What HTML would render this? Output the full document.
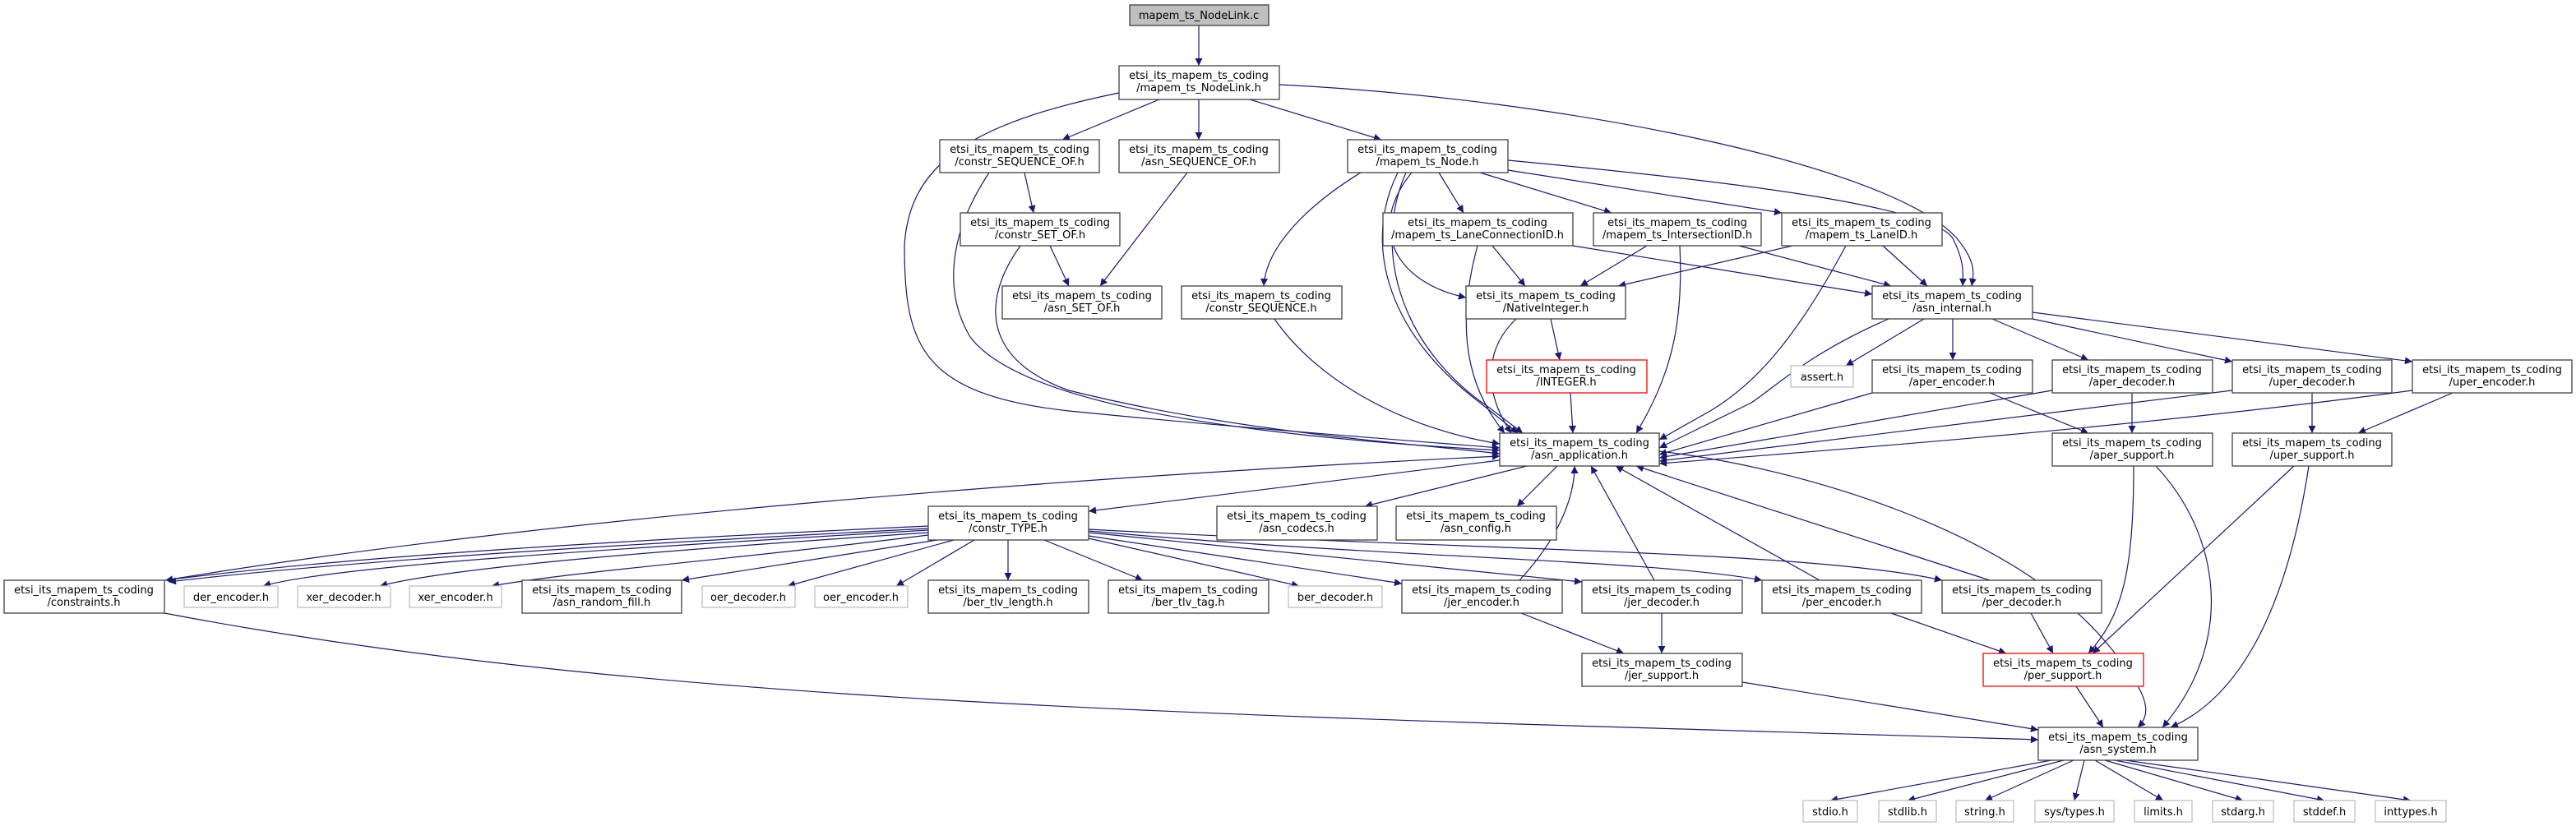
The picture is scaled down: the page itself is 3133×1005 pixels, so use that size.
<!DOCTYPE html>
<html><head><meta charset="utf-8">
<style>
html,body{margin:0;padding:0;background:#fff;}
svg{display:block;}
text{font-family:"DejaVu Sans","Liberation Sans",sans-serif;font-size:13px;fill:#000;text-anchor:middle;}
.n{fill:#fff;stroke:#404040;stroke-width:1.3;}
.g{fill:#fff;stroke:#bfbfbf;stroke-width:1.3;}
.r{fill:#fff;stroke:#ff0000;stroke-width:1.3;}
.e{fill:none;stroke:#191970;stroke-width:1.2;}
</style></head><body>
<svg width="3133" height="1005" viewBox="0 0 3133 1005" xmlns="http://www.w3.org/2000/svg">
<defs><marker id="a" viewBox="0 0 10 10" refX="10" refY="5" markerWidth="11" markerHeight="9" markerUnits="userSpaceOnUse" orient="auto"><path d="M0,0 L10,5 L0,10 z" fill="#191970"/></marker></defs>
<g class="e" marker-end="url(#a)">
<path d="M1458 31 L1458 80"/>
<path d="M1410 121 L1292 170"/>
<path d="M1458 121 L1458 170"/>
<path d="M1520 121 L1680 170"/>
<path d="M1361 113 C1180 150 1105 200 1100 300 C1100 420 1120 480 1300 500 C1500 520 1700 535 1824 545"/>
<path d="M1556 103 C1900 120 2300 200 2380 290 C2405 320 2400 335 2398 348"/>
<path d="M1834 195 C2100 220 2350 250 2375 290 C2388 315 2388 330 2387 348"/>
<path d="M1246 210 L1257 259"/>
<path d="M1203 210 C1150 290 1150 360 1180 410 C1240 490 1500 530 1824 548"/>
<path d="M1444 210 L1338 348"/>
<path d="M1277 299 L1300 348"/>
<path d="M1241 299 C1190 370 1200 440 1300 475 C1500 525 1700 538 1824 552"/>
<path d="M1655 210 C1590 250 1540 300 1537 348"/>
<path d="M1700 210 C1660 290 1680 400 1800 490 L1846 527"/>
<path d="M1710 210 C1670 300 1700 420 1810 495 L1852 527"/>
<path d="M1717 210 C1660 280 1700 345 1783 362"/>
<path d="M1750 210 L1780 259"/>
<path d="M1800 210 L1960 259"/>
<path d="M1834 207 L2167 259"/>
<path d="M1815 299 L1855 348"/>
<path d="M1913 299 L2277 358"/>
<path d="M1797 299 C1775 380 1775 460 1830 527"/>
<path d="M2003 299 L1922 348"/>
<path d="M2115 299 L2300 348"/>
<path d="M2043 299 C2048 400 2030 460 1990 527"/>
<path d="M2180 299 L1968 348"/>
<path d="M2290 299 L2344 348"/>
<path d="M2245 299 C2180 420 2130 470 2080 500 L2018 535"/>
<path d="M1550 388 C1600 460 1700 520 1824 540"/>
<path d="M1886 388 L1897 438"/>
<path d="M1844 388 C1810 420 1800 470 1838 527"/>
<path d="M1910 478 L1913 527"/>
<path d="M2340 388 L2245 445"/>
<path d="M2375 388 L2375 438"/>
<path d="M2423 388 L2540 438"/>
<path d="M2472 388 L2715 440"/>
<path d="M2472 380 L2934 440"/>
<path d="M2297 388 C2200 430 2160 470 2130 490 L2018 545"/>
<path d="M2277 478 L2018 553"/>
<path d="M2420 478 L2540 527"/>
<path d="M2496 475 L2018 557"/>
<path d="M2593 478 L2593 527"/>
<path d="M2715 475 L2018 561"/>
<path d="M2812 478 L2812 527"/>
<path d="M2934 475 C2600 520 2200 550 2018 564"/>
<path d="M2983 478 L2868 527"/>
<path d="M1824 560 L1324 622"/>
<path d="M1857 567 L1660 616"/>
<path d="M1894 567 L1845 616"/>
<path d="M2018 549 C2200 570 2450 650 2560 780 C2620 850 2615 870 2600 885"/>
<path d="M201 706 C600 640 1200 585 1824 555"/>
<path d="M1129 640 C700 660 400 680 201 706"/>
<path d="M1129 643 C700 665 400 685 205 708"/>
<path d="M1129 645 C700 670 400 690 320 713"/>
<path d="M1129 648 C800 670 550 690 462 713"/>
<path d="M1129 651 C900 680 700 695 598 713"/>
<path d="M1140 657 L829 706"/>
<path d="M1160 657 L958 713"/>
<path d="M1185 657 L1090 713"/>
<path d="M1226 657 L1226 706"/>
<path d="M1270 657 L1390 706"/>
<path d="M1324 655 L1580 713"/>
<path d="M1324 652 L1705 710"/>
<path d="M1324 648 L1924 708"/>
<path d="M1324 646 C1700 680 2000 680 2143 706"/>
<path d="M1324 644 C1800 670 2200 670 2362 706"/>
<path d="M1848 706 C1900 650 1915 600 1915 567"/>
<path d="M2012 706 L1935 567"/>
<path d="M2213 706 L1965 567"/>
<path d="M2420 706 L1990 567"/>
<path d="M1850 746 L1975 795"/>
<path d="M2021 746 L2021 795"/>
<path d="M2300 746 L2440 795"/>
<path d="M2470 746 L2497 795"/>
<path d="M2595 567 C2595 700 2580 750 2540 795"/>
<path d="M2622 567 C2700 650 2720 780 2630 885"/>
<path d="M2790 567 L2545 795"/>
<path d="M2808 567 C2780 750 2720 850 2640 885"/>
<path d="M2119 830 L2479 888"/>
<path d="M2525 835 L2558 885"/>
<path d="M200 746 C800 860 1500 870 2479 900"/>
<path d="M2495 925 L2226 974"/>
<path d="M2510 925 L2320 974"/>
<path d="M2522 925 L2414 974"/>
<path d="M2535 925 L2523 974"/>
<path d="M2548 925 L2631 974"/>
<path d="M2560 925 L2728 974"/>
<path d="M2572 925 L2827 974"/>
<path d="M2585 925 L2932 974"/>
</g>

<rect x="1374" y="6" width="169" height="25" fill="#bfbfbf" stroke="#404040" stroke-width="1.3"/>
<text x="1458" y="23">mapem_ts_NodeLink.c</text>

<g>
<rect class="n" x="1361" y="80" width="195" height="41"/><text x="1458" y="96">etsi_its_mapem_ts_coding</text><text x="1458" y="111">/mapem_ts_NodeLink.h</text>
<rect class="n" x="1143" y="170" width="194" height="40"/><text x="1240" y="186">etsi_its_mapem_ts_coding</text><text x="1240" y="201">/constr_SEQUENCE_OF.h</text>
<rect class="n" x="1361" y="170" width="195" height="40"/><text x="1458" y="186">etsi_its_mapem_ts_coding</text><text x="1458" y="201">/asn_SEQUENCE_OF.h</text>
<rect class="n" x="1639" y="170" width="195" height="40"/><text x="1736" y="186">etsi_its_mapem_ts_coding</text><text x="1736" y="201">/mapem_ts_Node.h</text>
<rect class="n" x="1168" y="259" width="194" height="40"/><text x="1265" y="275">etsi_its_mapem_ts_coding</text><text x="1265" y="290">/constr_SET_OF.h</text>
<rect class="n" x="1682" y="259" width="231" height="40"/><text x="1797" y="275">etsi_its_mapem_ts_coding</text><text x="1797" y="290">/mapem_ts_LaneConnectionID.h</text>
<rect class="n" x="1938" y="259" width="204" height="40"/><text x="2040" y="275">etsi_its_mapem_ts_coding</text><text x="2040" y="290">/mapem_ts_IntersectionID.h</text>
<rect class="n" x="2167" y="259" width="195" height="40"/><text x="2264" y="275">etsi_its_mapem_ts_coding</text><text x="2264" y="290">/mapem_ts_LaneID.h</text>
<rect class="n" x="1219" y="348" width="194" height="40"/><text x="1316" y="364">etsi_its_mapem_ts_coding</text><text x="1316" y="379">/asn_SET_OF.h</text>
<rect class="n" x="1437" y="348" width="195" height="40"/><text x="1534" y="364">etsi_its_mapem_ts_coding</text><text x="1534" y="379">/constr_SEQUENCE.h</text>
<rect class="n" x="1783" y="348" width="194" height="40"/><text x="1880" y="364">etsi_its_mapem_ts_coding</text><text x="1880" y="379">/NativeInteger.h</text>
<rect class="n" x="2277" y="348" width="195" height="40"/><text x="2374" y="364">etsi_its_mapem_ts_coding</text><text x="2374" y="379">/asn_internal.h</text>
<rect class="r" x="1808" y="438" width="195" height="40"/><text x="1905" y="454">etsi_its_mapem_ts_coding</text><text x="1905" y="469">/INTEGER.h</text>
<rect class="g" x="2178" y="445" width="76" height="26"/><text x="2216" y="463">assert.h</text>
<rect class="n" x="2277" y="438" width="195" height="40"/><text x="2374" y="454">etsi_its_mapem_ts_coding</text><text x="2374" y="469">/aper_encoder.h</text>
<rect class="n" x="2496" y="438" width="195" height="40"/><text x="2593" y="454">etsi_its_mapem_ts_coding</text><text x="2593" y="469">/aper_decoder.h</text>
<rect class="n" x="2715" y="438" width="194" height="40"/><text x="2812" y="454">etsi_its_mapem_ts_coding</text><text x="2812" y="469">/uper_decoder.h</text>
<rect class="n" x="2934" y="438" width="194" height="40"/><text x="3031" y="454">etsi_its_mapem_ts_coding</text><text x="3031" y="469">/uper_encoder.h</text>
<rect class="n" x="1824" y="527" width="194" height="40"/><text x="1921" y="543">etsi_its_mapem_ts_coding</text><text x="1921" y="558">/asn_application.h</text>
<rect class="n" x="2496" y="527" width="195" height="40"/><text x="2593" y="543">etsi_its_mapem_ts_coding</text><text x="2593" y="558">/aper_support.h</text>
<rect class="n" x="2715" y="527" width="194" height="40"/><text x="2812" y="543">etsi_its_mapem_ts_coding</text><text x="2812" y="558">/uper_support.h</text>
<rect class="n" x="1129" y="616" width="195" height="41"/><text x="1226" y="632">etsi_its_mapem_ts_coding</text><text x="1226" y="647">/constr_TYPE.h</text>
<rect class="n" x="1480" y="616" width="195" height="41"/><text x="1577" y="632">etsi_its_mapem_ts_coding</text><text x="1577" y="647">/asn_codecs.h</text>
<rect class="n" x="1698" y="616" width="195" height="41"/><text x="1795" y="632">etsi_its_mapem_ts_coding</text><text x="1795" y="647">/asn_config.h</text>
<rect class="n" x="5" y="706" width="195" height="40"/><text x="102" y="722">etsi_its_mapem_ts_coding</text><text x="102" y="737">/constraints.h</text>
<rect class="g" x="224" y="713" width="114" height="26"/><text x="281" y="731">der_encoder.h</text>
<rect class="g" x="362" y="713" width="113" height="26"/><text x="418" y="731">xer_decoder.h</text>
<rect class="g" x="498" y="713" width="112" height="26"/><text x="554" y="731">xer_encoder.h</text>
<rect class="n" x="635" y="706" width="194" height="40"/><text x="732" y="722">etsi_its_mapem_ts_coding</text><text x="732" y="737">/asn_random_fill.h</text>
<rect class="g" x="854" y="713" width="113" height="26"/><text x="910" y="731">oer_decoder.h</text>
<rect class="g" x="991" y="713" width="113" height="26"/><text x="1047" y="731">oer_encoder.h</text>
<rect class="n" x="1129" y="706" width="195" height="40"/><text x="1226" y="722">etsi_its_mapem_ts_coding</text><text x="1226" y="737">/ber_tlv_length.h</text>
<rect class="n" x="1348" y="706" width="195" height="40"/><text x="1445" y="722">etsi_its_mapem_ts_coding</text><text x="1445" y="737">/ber_tlv_tag.h</text>
<rect class="g" x="1567" y="713" width="114" height="26"/><text x="1624" y="731">ber_decoder.h</text>
<rect class="n" x="1705" y="706" width="195" height="40"/><text x="1802" y="722">etsi_its_mapem_ts_coding</text><text x="1802" y="737">/jer_encoder.h</text>
<rect class="n" x="1924" y="706" width="195" height="40"/><text x="2021" y="722">etsi_its_mapem_ts_coding</text><text x="2021" y="737">/jer_decoder.h</text>
<rect class="n" x="2143" y="706" width="194" height="40"/><text x="2240" y="722">etsi_its_mapem_ts_coding</text><text x="2240" y="737">/per_encoder.h</text>
<rect class="n" x="2362" y="706" width="194" height="40"/><text x="2459" y="722">etsi_its_mapem_ts_coding</text><text x="2459" y="737">/per_decoder.h</text>
<rect class="n" x="1924" y="795" width="195" height="40"/><text x="2021" y="811">etsi_its_mapem_ts_coding</text><text x="2021" y="826">/jer_support.h</text>
<rect class="r" x="2412" y="795" width="195" height="40"/><text x="2509" y="811">etsi_its_mapem_ts_coding</text><text x="2509" y="826">/per_support.h</text>
<rect class="n" x="2479" y="885" width="194" height="40"/><text x="2576" y="901">etsi_its_mapem_ts_coding</text><text x="2576" y="916">/asn_system.h</text>
<rect class="g" x="2193" y="974" width="66" height="26"/><text x="2226" y="992">stdio.h</text>
<rect class="g" x="2285" y="974" width="70" height="26"/><text x="2320" y="992">stdlib.h</text>
<rect class="g" x="2379" y="974" width="70" height="26"/><text x="2414" y="992">string.h</text>
<rect class="g" x="2475" y="974" width="96" height="26"/><text x="2523" y="992">sys/types.h</text>
<rect class="g" x="2596" y="974" width="70" height="26"/><text x="2631" y="992">limits.h</text>
<rect class="g" x="2691" y="974" width="74" height="26"/><text x="2728" y="992">stdarg.h</text>
<rect class="g" x="2790" y="974" width="74" height="26"/><text x="2827" y="992">stddef.h</text>
<rect class="g" x="2889" y="974" width="86" height="26"/><text x="2932" y="992">inttypes.h</text>
</g>
</svg>
</body></html>
